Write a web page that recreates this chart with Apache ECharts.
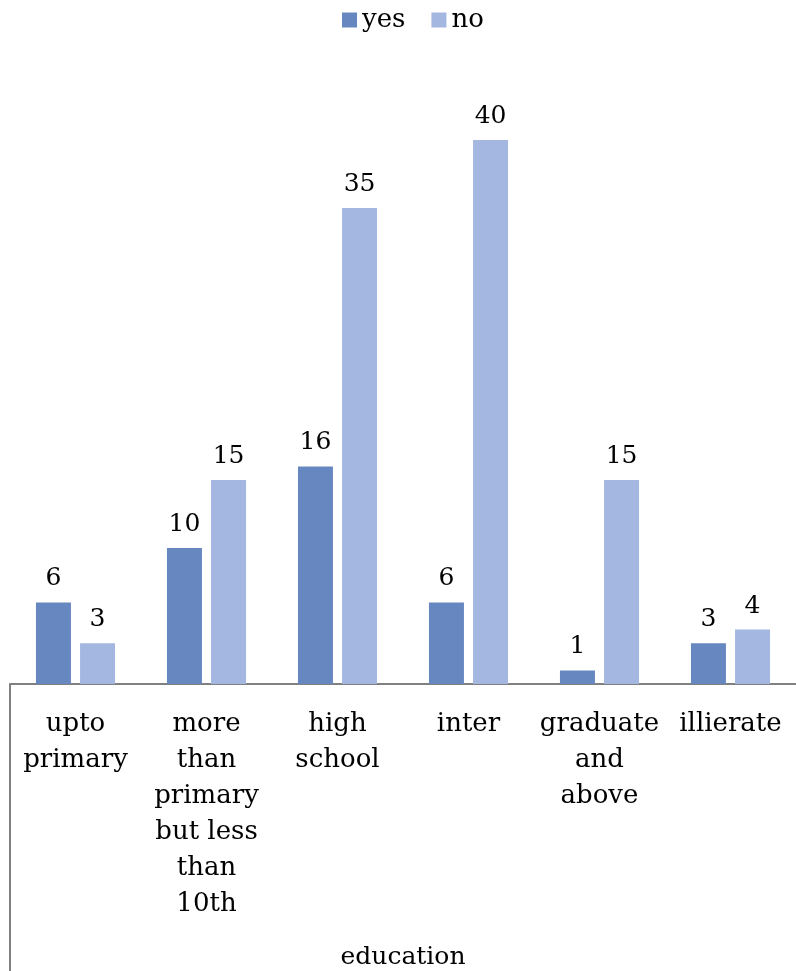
<!DOCTYPE html>
<html><head><meta charset="utf-8">
<script src="https://cdn.jsdelivr.net/npm/echarts@6/dist/echarts.min.js"></script>
<style>html,body{margin:0;padding:0;background:#fff;overflow:hidden}#c{width:796px;height:971px}</style>
</head><body><div id="c"></div>
<script>
var categories = ['upto primary','more than primary but less than 10th','high school','inter','graduate and above','illierate'];
var tickLabels = ['upto\nprimary','more\nthan\nprimary\nbut less\nthan\n10th','high\nschool','inter','graduate\nand\nabove','illierate'];
var yesValues = [6,10,16,6,1,3];
var noValues = [3,15,35,40,15,4];
var seriesNames = ['yes','no'];

var font = 'DejaVu Serif';
var gridLeft = 10, gridBottom = 287;
var chart = echarts.init(document.getElementById('c'));
var H = chart.getHeight();
chart.setOption({
  animation:false,
  textStyle:{fontFamily:font},
  graphic:[{type:'line',silent:true,
    shape:{x1:gridLeft,y1:H-gridBottom,x2:gridLeft,y2:H},
    style:{stroke:'#808080',lineWidth:2}}],
  legend:{top:2,left:337,icon:'rect',itemWidth:15,itemHeight:15,itemGap:26,
    textStyle:{fontFamily:font,fontSize:26,color:'#000'},data:seriesNames},
  grid:{left:gridLeft,right:0,top:72,bottom:gridBottom,outerBoundsMode:'none',containLabel:false},
  xAxis:{type:'category',data:categories,
    axisLine:{lineStyle:{color:'#808080',width:2}},
    axisTick:{show:false},
    axisLabel:{interval:0,margin:22,fontFamily:font,fontSize:26,color:'#000',lineHeight:36,
      formatter:function(v,i){return tickLabels[i];}},
    name:'education',nameLocation:'middle',nameGap:261,
    nameTextStyle:{fontFamily:font,fontSize:25,color:'#000'}},
  yAxis:{type:'value',min:0,max:45,show:false,splitLine:{show:false}},
  series:[
    {name:seriesNames[0],type:'bar',data:yesValues,barWidth:35,barGap:'26%',
      itemStyle:{color:'#6787c0'},
      label:{show:true,position:'top',distance:11,fontFamily:font,fontSize:25,color:'#000'}},
    {name:seriesNames[1],type:'bar',data:noValues,barWidth:35,barGap:'26%',
      itemStyle:{color:'#a4b7e1'},
      label:{show:true,position:'top',distance:11,fontFamily:font,fontSize:25,color:'#000'}}
  ]
});
</script></body></html>
